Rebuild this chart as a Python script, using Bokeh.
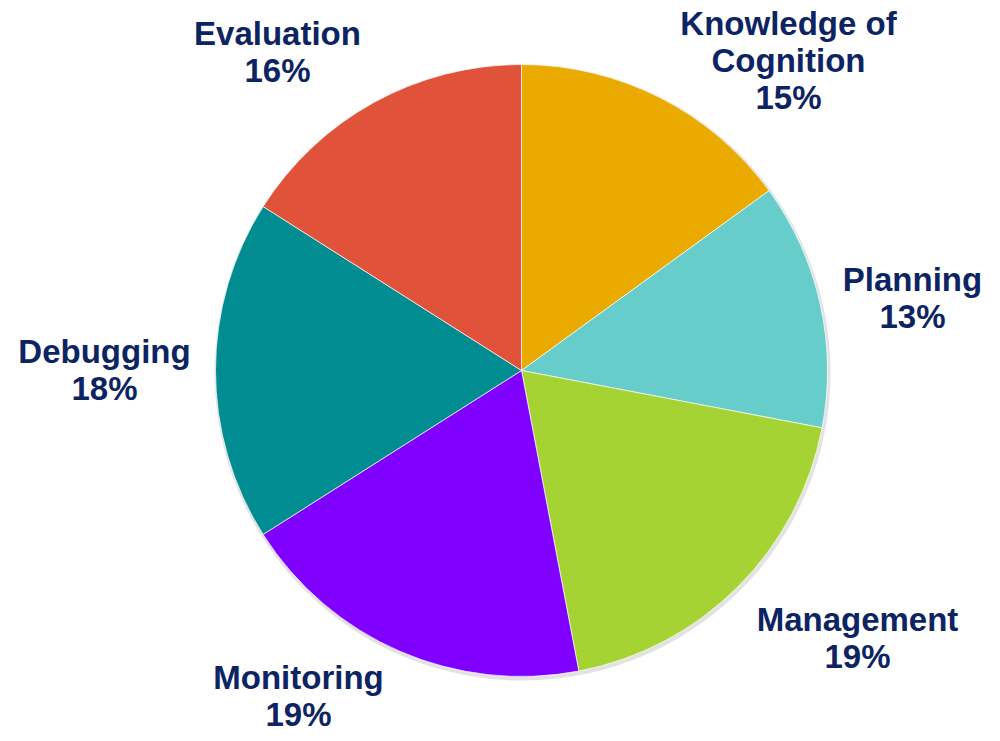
import math
from bokeh.plotting import figure
from bokeh.models import Range1d, ColumnDataSource
from bokeh.core.properties import value
from bokeh.embed import file_html
from bokeh.resources import INLINE

categories = ["Knowledge of\nCognition", "Planning", "Management", "Monitoring", "Debugging", "Evaluation"]
percents = [15, 13, 19, 19, 18, 16]
colors = ["#EAAA00", "#66CDCA", "#A6D334", "#7F00FF", "#008C91", "#E0523A"]

# label block centres (page pixels)
label_x = [788, 912, 857, 298, 104, 277]
label_y = [60, 297, 637, 695, 369, 51]
LINE = 37

W, H = 984, 733
p = figure(width=W, height=H, output_backend="svg", toolbar_location=None,
           x_range=Range1d(0, 984), y_range=Range1d(8, 741),
           min_border=0)
p.axis.visible = False
p.grid.visible = False
p.outline_line_color = None
p.background_fill_color = "white"
p.border_fill_color = "white"

cx, cy, r = 521, 741 - 370, 306

total = sum(percents)
starts, ends = [], []
cum = 0
for v in percents:
    starts.append(math.pi / 2 - 2 * math.pi * cum / total)
    cum += v
    ends.append(math.pi / 2 - 2 * math.pi * cum / total)

# soft shadow
p.circle(x=cx + 1, y=cy - 2, radius=r + 2, fill_color="#cfcfcf", fill_alpha=0.6, line_color=None)
p.circle(x=cx + 1, y=cy - 1, radius=r + 1, fill_color="#e4e4e4", fill_alpha=0.6, line_color=None)

src = ColumnDataSource(dict(start=starts, end=ends, color=colors))
p.wedge(x=cx, y=cy, radius=r, start_angle="start", end_angle="end", direction="clock",
        fill_color="color", line_color="white", line_width=0.7, source=src)

tx, ty, tt = [], [], []
for c, v, lx, ly in zip(categories, percents, label_x, label_y):
    lines = c.split("\n") + [f"{v}%"]
    n = len(lines)
    for i, line in enumerate(lines):
        tx.append(lx)
        ty.append(741 - (ly + (i - (n - 1) / 2) * LINE))
        tt.append(line)
lsrc = ColumnDataSource(dict(x=tx, y=ty, text=tt))
p.text(x="x", y="y", text="text", source=lsrc, text_align="center", text_baseline="middle",
       text_font=value("Liberation Sans"), text_font_style="bold", text_font_size="33px",
       text_color="#0D2463", text_line_height=1.0)

open("out.html", "w").write(file_html(p, INLINE))
